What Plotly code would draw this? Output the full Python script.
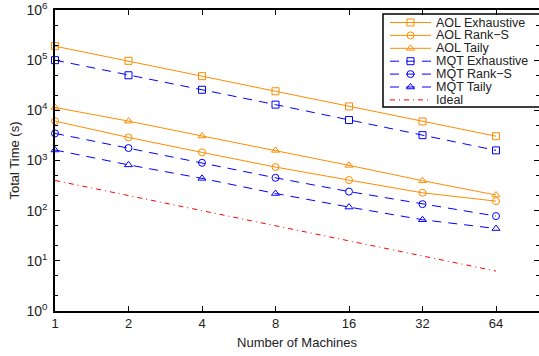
import plotly.graph_objects as go
import math

machines = [1, 2, 4, 8, 16, 32, 64]
x_tick_labels = ["1", "2", "4", "8", "16", "32", "64"]

aol_exhaustive = [190000, 97000, 48000, 24000, 12000, 6000, 3050]
aol_rank_s = [6100, 2880, 1450, 740, 407, 227, 155]
aol_taily = [11400, 6100, 3080, 1590, 800, 396, 205]
mqt_exhaustive = [100000, 50000, 25700, 13000, 6400, 3200, 1590]
mqt_rank_s = [3470, 1770, 900, 452, 240, 135, 78]
mqt_taily = [1620, 818, 440, 220, 118, 66, 44]
ideal = [400, 200, 100, 50, 25, 12.5, 6.25]

y_tick_vals = [1, 10, 100, 1000, 10000, 100000, 1000000]
y_tick_text = ["10<sup>0</sup>", "10<sup>1</sup>", "10<sup>2</sup>", "10<sup>3</sup>",
               "10<sup>4</sup>", "10<sup>5</sup>", "10<sup>6</sup>"]

ORANGE = "#ff8c00"
BLUE = "#0000ff"
RED = "#ff0000"
DASH = "9px,7px"
DASHDOT = "5px,4px,1px,4px"

series = [
    ("AOL Exhaustive", aol_exhaustive, ORANGE, "solid", "square-open"),
    ("AOL Rank\u2212S", aol_rank_s, ORANGE, "solid", "circle-open"),
    ("AOL Taily", aol_taily, ORANGE, "solid", "triangle-up-open"),
    ("MQT Exhaustive", mqt_exhaustive, BLUE, DASH, "square-open"),
    ("MQT Rank\u2212S", mqt_rank_s, BLUE, DASH, "circle-open"),
    ("MQT Taily", mqt_taily, BLUE, DASH, "triangle-up-open"),
]

W, H = 539, 356
L, R, T, B = 55, 0, 10, 45
PW, PH = W - L - R, H - T - B

fig = go.Figure()
for name, vals, color, dash, sym in series:
    fig.add_trace(go.Scatter(
        x=machines, y=vals, name=name, mode="lines+markers", cliponaxis=False,
        line=dict(color=color, width=1, dash=dash),
        marker=dict(symbol=sym, size=7, color=color, line=dict(width=1, color=color)),
        showlegend=False,
    ))
fig.add_trace(go.Scatter(
    x=machines, y=ideal, name="Ideal", mode="lines",
    line=dict(color=RED, width=1, dash=DASHDOT), showlegend=False,
))

# ---- manual legend (compact, like the reference) ----
font_family = "Liberation Sans, Arial, Helvetica, sans-serif"
legend_entries = [(s[0], s[2], s[3], s[4]) for s in series] + [("Ideal", RED, DASHDOT, None)]
box_left, box_right, box_top, box_bottom = 383, 545, 14, 107
row0, row_gap = 22.5, 12.9
sample_x0, sample_x1, text_x = 390, 431, 434

def px_to_paper_x(px):
    return (px - L) / PW

def px_to_paper_y(py):
    return (H - B - py) / PH

fig.add_shape(type="rect", xref="paper", yref="paper",
              x0=px_to_paper_x(box_left), x1=px_to_paper_x(box_right),
              y0=px_to_paper_y(box_bottom), y1=px_to_paper_y(box_top),
              line=dict(color="black", width=1.5), fillcolor="white", layer="below")

for i, (name, color, dash, sym) in enumerate(legend_entries):
    yy = row0 + i * row_gap
    fig.add_trace(go.Scatter(
        x=[sample_x0, sample_x1], y=[yy, yy], mode="lines",
        line=dict(color=color, width=1, dash=dash),
        xaxis="x2", yaxis="y2", showlegend=False, hoverinfo="skip",
    ))
    if sym:
        fig.add_trace(go.Scatter(
            x=[(sample_x0 + sample_x1) / 2], y=[yy], mode="markers",
            marker=dict(symbol=sym, size=7, color=color, line=dict(width=1, color=color)),
            xaxis="x2", yaxis="y2", showlegend=False, hoverinfo="skip",
        ))
    fig.add_annotation(x=px_to_paper_x(text_x), y=px_to_paper_y(yy), xref="paper", yref="paper",
                       text=name, showarrow=False, xanchor="left", yanchor="middle",
                       font=dict(size=12.5, color="#222", family=font_family))

fig.update_layout(
    width=W, height=H,
    margin=dict(l=L, r=R, t=T, b=B, autoexpand=False),
    paper_bgcolor="white", plot_bgcolor="white",
    font=dict(family=font_family, size=13, color="#222"),
    showlegend=False,
    xaxis=dict(
        type="log", range=[0, math.log10(64) * 484 / 441], automargin=False,
        tickvals=machines, ticktext=x_tick_labels,
        ticks="inside", ticklen=5, tickcolor="black",
        showline=True, linecolor="black", linewidth=1.5, mirror="ticks",
        showgrid=False, zeroline=False,
        title=dict(text="Number of Machines", font=dict(size=13), standoff=8),
        tickfont=dict(size=13),
    ),
    yaxis=dict(
        type="log", range=[0, 6], automargin=False,
        tickvals=y_tick_vals, ticktext=y_tick_text,
        ticks="inside", ticklen=5, tickcolor="black", ticklabelstandoff=3,
        minor=dict(ticks="inside", ticklen=3, tickcolor="black", showgrid=False),
        showline=True, linecolor="black", linewidth=1.5, mirror="ticks",
        showgrid=False, zeroline=False,
        title=dict(text="Total Time (s)", font=dict(size=13), standoff=4),
        tickfont=dict(size=14),
    ),
    xaxis2=dict(overlaying="x", anchor="y2", range=[L, W - R], visible=False,
                fixedrange=True, automargin=False),
    yaxis2=dict(overlaying="y", anchor="x2", range=[H - B, T], visible=False,
                fixedrange=True, automargin=False),
)

fig.write_html("out.html", config={"displayModeBar": False},
               post_script="document.body.style.margin='0px';document.body.style.overflow='hidden';")
